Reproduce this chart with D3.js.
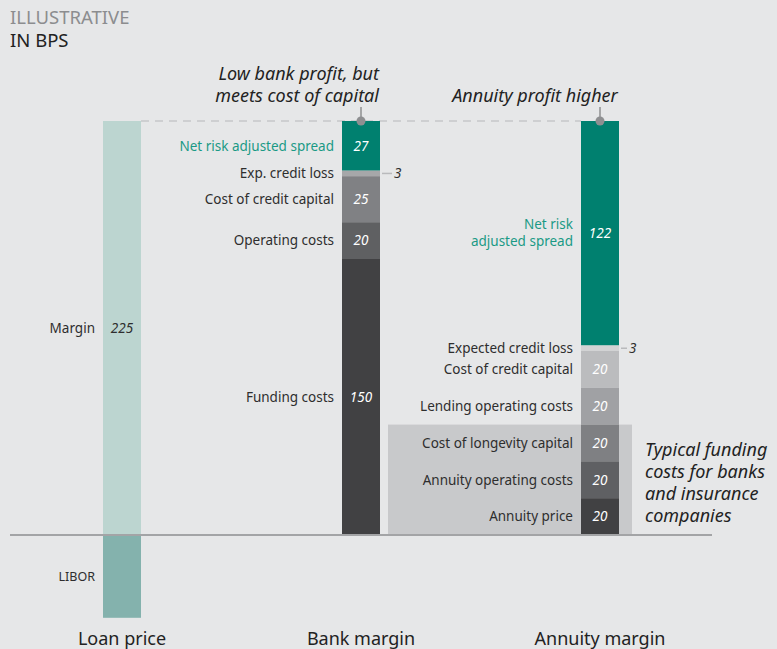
<!DOCTYPE html>
<html>
<head>
<meta charset="utf-8">
<script src="https://cdn.jsdelivr.net/npm/d3@7/dist/d3.min.js"></script>
<style>
  html, body { margin: 0; padding: 0; background: #e6e7e8; }
  svg { display: block; font-family: "Noto Sans", "Open Sans", sans-serif; }
</style>
</head>
<body>
<svg id="chart" width="777" height="649"></svg>
<script>
// Categories along the x axis
const categories = ["Loan price", "Bank margin", "Annuity margin"];

// Loan price: margin above LIBOR (LIBOR has no stated value)
const loanLabels = ["Margin", "LIBOR"];
const loanValues = [225, -45];

// Bank margin stack, top to bottom
const bankLabels = ["Net risk adjusted spread", "Exp. credit loss", "Cost of credit capital", "Operating costs", "Funding costs"];
const bankValues = [27, 3, 25, 20, 150];

// Annuity margin stack, top to bottom
const annuityLabels = ["Net risk\nadjusted spread", "Expected credit loss", "Cost of credit capital", "Lending operating costs", "Cost of longevity capital", "Annuity operating costs", "Annuity price"];
const annuityValues = [122, 3, 20, 20, 20, 20, 20];

// Segment fills
const teal = "#00806f";
const bankColors = [teal, "#a6a7a9", "#808184", "#5f6062", "#414143"];
const annuityColors = [teal, "#d2d3d4", "#bbbcbe", "#a0a1a4", "#7f8083", "#5f6063", "#414143"];

const svg = d3.select("#chart");
const x = d3.scalePoint().domain(categories).range([122, 600]);
const y = d3.scaleLinear().domain([0, 225]).range([535, 121]);
const barW = 38;
const labelColor = "#2e2e2e";
const tealText = "#1a9a85";
const labelSize = 13.5;

// Header
svg.append("text").attr("x", 10).attr("y", 24).attr("font-size", 18.5).attr("fill", "#8c8d8f").text("ILLUSTRATIVE");
svg.append("text").attr("x", 10).attr("y", 47).attr("font-size", 18.5).attr("fill", "#222").text("IN BPS");

// Shaded band behind the shared funding-cost segments
const sharedTop = d3.sum(annuityValues.slice(4));
svg.append("rect")
  .attr("x", 388).attr("width", 632 - 388)
  .attr("y", y(sharedTop)).attr("height", y(0) - y(sharedTop))
  .attr("fill", "#c8c9cb");

// Dashed reference at the total loan price
const total = loanValues[0];
svg.append("line")
  .attr("x1", x(categories[0]) + barW / 2).attr("x2", x(categories[2]) - barW / 2)
  .attr("y1", y(total)).attr("y2", y(total))
  .attr("stroke", "#c6c7c9").attr("stroke-width", 1.6).attr("stroke-dasharray", "8,6");

// Loan price bar
const lx = x(categories[0]);
svg.append("rect").attr("x", lx - barW / 2).attr("width", barW)
  .attr("y", y(loanValues[0])).attr("height", y(0) - y(loanValues[0])).attr("fill", "#bcd5d0");
svg.append("rect").attr("x", lx - barW / 2).attr("width", barW)
  .attr("y", y(0)).attr("height", y(loanValues[1]) - y(0)).attr("fill", "#84b2ad");
svg.append("text").attr("x", lx - barW / 2 - 8).attr("y", y(loanValues[0] / 2)).attr("dy", "0.35em")
  .attr("text-anchor", "end").attr("font-size", labelSize).attr("fill", labelColor).text(loanLabels[0]);
svg.append("text").attr("x", lx).attr("y", y(loanValues[0] / 2)).attr("dy", "0.35em")
  .attr("text-anchor", "middle").attr("font-size", labelSize).attr("font-style", "italic").attr("fill", labelColor).text(loanValues[0]);
svg.append("text").attr("x", lx - barW / 2 - 8).attr("y", y(loanValues[1] / 2)).attr("dy", "0.35em")
  .attr("text-anchor", "end").attr("font-size", 12.5).attr("fill", labelColor).text(loanLabels[1]);

// Stacked bars, drawn downward from the total
function stack(cat, labels, values, colors, smallTickLen) {
  const cx = x(cat);
  let top = d3.sum(values);
  values.forEach((v, i) => {
    const bottom = top - v;
    const mid = (top + bottom) / 2;
    const g = svg.append("g");
    g.append("rect").attr("x", cx - barW / 2).attr("width", barW)
      .attr("y", y(top)).attr("height", y(bottom) - y(top)).attr("fill", colors[i]);
    const lines = labels[i].split("\n");
    const lt = g.append("text").attr("x", cx - barW / 2 - 8).attr("text-anchor", "end")
      .attr("font-size", labelSize).attr("fill", colors[i] === teal ? tealText : labelColor);
    lines.forEach((t, k) => {
      lt.append("tspan").attr("x", cx - barW / 2 - 8)
        .attr("y", y(mid) + (k - (lines.length - 1) / 2) * 17).attr("dy", "0.35em").text(t);
    });
    if (v >= 10) {
      g.append("text").attr("x", cx).attr("y", y(mid)).attr("dy", "0.35em")
        .attr("text-anchor", "middle").attr("font-size", labelSize).attr("font-style", "italic")
        .attr("fill", "#ffffff").text(v);
    } else {
      g.append("line").attr("x1", cx + barW / 2 + 2).attr("x2", cx + barW / 2 + 2 + smallTickLen)
        .attr("y1", y(mid)).attr("y2", y(mid)).attr("stroke", "#b9babc").attr("stroke-width", 1.5);
      g.append("text").attr("x", cx + barW / 2 + 4 + smallTickLen).attr("y", y(mid)).attr("dy", "0.35em")
        .attr("font-size", labelSize).attr("font-style", "italic").attr("fill", labelColor).text(v);
    }
    top = bottom;
  });
  // Callout marker at the top of the stack
  svg.append("line").attr("x1", cx).attr("x2", cx).attr("y1", y(total) - 14).attr("y2", y(total))
    .attr("stroke", "#8e8f91").attr("stroke-width", 1.5);
  svg.append("circle").attr("cx", cx).attr("cy", y(total)).attr("r", 4.5).attr("fill", "#8e8f91");
}
stack(categories[1], bankLabels, bankValues, bankColors, 10);
stack(categories[2], annuityLabels, annuityValues, annuityColors, 6);

// Baseline
svg.append("line").attr("x1", 10).attr("x2", 712).attr("y1", y(0)).attr("y2", y(0))
  .attr("stroke", "#a3a4a6").attr("stroke-width", 2);

// Annotations
const anno = svg.append("g").attr("font-size", 18).attr("font-style", "italic").attr("fill", "#222");
anno.append("text").attr("x", 379).attr("y", 80).attr("text-anchor", "end").text("Low bank profit, but");
anno.append("text").attr("x", 379).attr("y", 102).attr("text-anchor", "end").text("meets cost of capital");
anno.append("text").attr("x", 535).attr("y", 102).attr("text-anchor", "middle").text("Annuity profit higher");
["Typical funding", "costs for banks", "and insurance", "companies"].forEach((t, i) => {
  anno.append("text").attr("x", 645).attr("y", 456 + i * 22).text(t);
});

// Category axis labels
svg.append("g").selectAll("text").data(categories).join("text")
  .attr("x", d => x(d)).attr("y", 645).attr("text-anchor", "middle")
  .attr("font-size", 18).attr("fill", "#222").text(d => d);
</script>
</body>
</html>
